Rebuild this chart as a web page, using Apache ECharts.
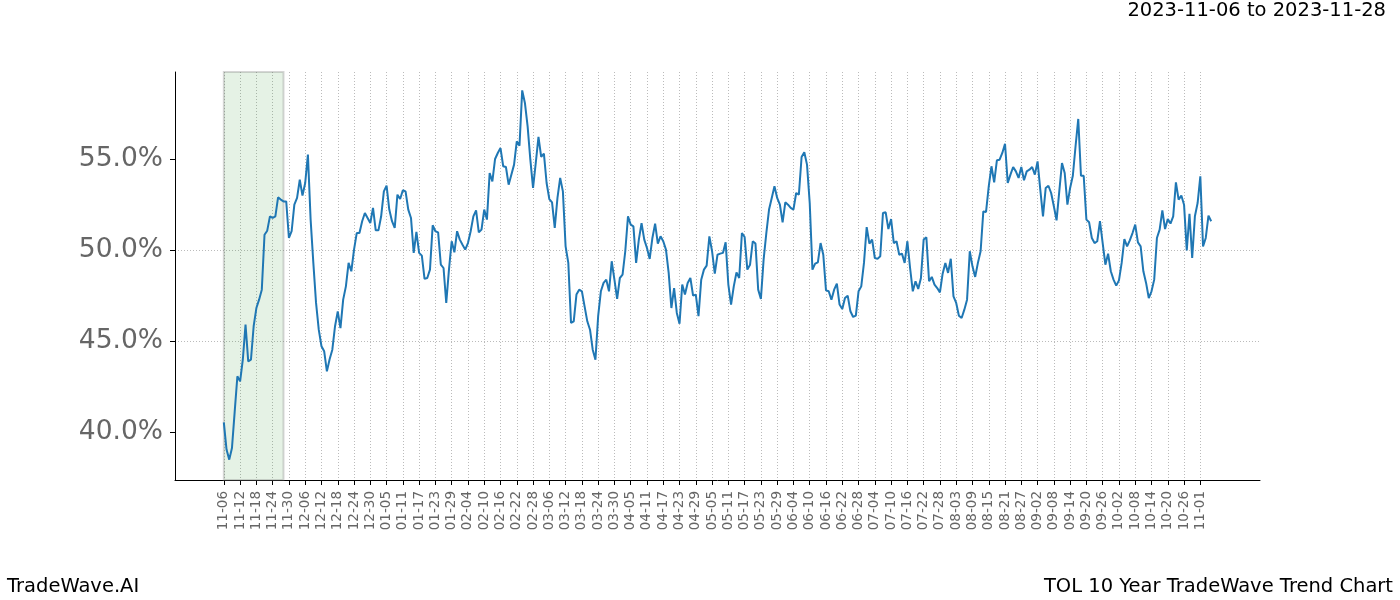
<!DOCTYPE html>
<html><head><meta charset="utf-8">
<script src="https://cdn.jsdelivr.net/npm/echarts@6/dist/echarts.min.js"></script>
<style>html,body{margin:0;padding:0;background:#fff}#c{width:1400px;height:600px}</style>
</head><body><div id="c"></div>
<script>
const startDate = '2023-11-06';
const values = [
40.53,39.03,38.48,39.12,41.10,43.06,42.78,43.97,45.90,43.88,43.97,45.81,46.81,47.27,47.82,50.84,51.06,51.85,51.76,51.85,
52.89,52.77,52.67,52.67,50.66,51.03,52.49,52.86,53.86,52.99,53.68,55.24,51.67,49.29,47.09,45.62,44.71,44.43,43.33,44.00,
44.52,45.81,46.63,45.71,47.27,48.00,49.29,48.83,50.02,50.93,50.93,51.58,52.03,51.76,51.48,52.31,51.08,51.08,51.85,53.22,
53.53,52.22,51.58,51.21,53.04,52.80,53.28,53.22,52.22,51.76,49.84,50.99,49.84,49.69,48.41,48.46,48.92,51.36,51.03,50.97,
49.20,49.01,47.09,48.92,50.48,49.87,51.03,50.57,50.29,50.02,50.38,51.03,51.85,52.18,50.97,51.12,52.22,51.67,54.23,53.77,
55.00,55.33,55.60,54.60,54.56,53.59,54.14,54.69,55.97,55.73,58.77,58.08,56.79,54.96,53.41,54.78,56.21,55.11,55.29,53.68,
52.80,52.62,51.21,52.86,53.96,53.22,50.20,49.29,45.99,46.08,47.55,47.82,47.73,46.90,46.08,45.62,44.52,43.97,46.36,47.73,
48.19,48.37,47.73,49.38,48.37,47.31,48.46,48.64,49.93,51.85,51.39,51.30,49.29,50.57,51.48,50.57,50.11,49.51,50.66,51.45,
50.35,50.75,50.48,50.02,48.74,46.81,47.91,46.54,45.95,48.10,47.55,48.19,48.46,47.49,47.55,46.36,48.37,48.92,49.14,50.75,
49.93,48.70,49.74,49.80,49.84,50.42,48.10,47.00,48.00,48.77,48.46,50.93,50.71,48.92,49.19,50.48,50.35,47.82,47.31,49.47,
50.93,52.22,52.86,53.50,52.86,52.49,51.52,52.62,52.49,52.31,52.22,53.13,53.04,55.11,55.37,54.69,52.58,48.92,49.25,49.32,
50.38,49.74,47.78,47.73,47.27,47.82,48.15,47.00,46.76,47.36,47.49,46.63,46.32,46.39,47.73,48.00,49.29,51.26,50.35,50.57,
49.56,49.51,49.65,52.03,52.07,51.15,51.70,50.38,50.48,49.74,49.80,49.29,50.48,49.01,47.73,48.28,47.86,48.46,50.57,50.70,
48.28,48.52,48.10,47.91,47.67,48.70,49.29,48.74,49.52,47.45,47.09,46.39,46.26,46.72,47.27,49.93,49.10,48.52,49.29,49.93,
52.12,52.09,53.50,54.60,53.72,54.93,54.96,55.33,55.84,53.68,54.14,54.56,54.32,53.96,54.56,53.83,54.32,54.41,54.56,54.14,
54.87,53.32,51.85,53.41,53.53,53.13,52.40,51.63,53.22,54.78,54.23,52.49,53.41,54.08,55.70,57.20,54.08,54.08,51.67,51.52,
50.66,50.38,50.48,51.58,50.38,49.19,49.80,48.83,48.37,48.04,48.33,49.29,50.60,50.20,50.53,50.93,51.39,50.42,50.20,48.83,
48.19,47.36,47.73,48.37,50.66,51.12,52.18,51.15,51.70,51.45,51.85,53.72,52.77,52.99,52.49,49.98,51.99,49.56,51.85,52.58,
54.05,50.20,50.66,51.89,51.58
];
const tickLabels = ['11-06','11-12','11-18','11-24','11-30','12-06','12-12','12-18','12-24','12-30',
'01-05','01-11','01-17','01-23','01-29','02-04','02-10','02-16','02-22','02-28',
'03-06','03-12','03-18','03-24','03-30','04-05','04-11','04-17','04-23','04-29',
'05-05','05-11','05-17','05-23','05-29','06-04','06-10','06-16','06-22','06-28',
'07-04','07-10','07-16','07-22','07-28','08-03','08-09','08-15','08-21','08-27',
'09-02','09-08','09-14','09-20','09-26','10-02','10-08','10-14','10-20','10-26','11-01'];
const highlight = ['11-06','11-28'];
const yTicks = [40, 45, 50, 55];
const titleText = '2023-11-06 to 2023-11-28';
const brandText = 'TradeWave.AI';
const chartName = 'TOL 10 Year TradeWave Trend Chart';

const PAD = 18;
const days = [];
(function () {
  const d = new Date(startDate + 'T00:00:00Z');
  while (days.length < values.length) {
    const m = d.getUTCMonth() + 1, dd = d.getUTCDate();
    if (!(m === 2 && dd === 29)) days.push(String(m).padStart(2, '0') + '-' + String(dd).padStart(2, '0'));
    d.setUTCDate(d.getUTCDate() + 1);
  }
})();
const cats = [];
for (let i = 0; i < PAD; i++) cats.push('pre' + i);
days.forEach(d => cats.push(d));
for (let i = 0; i < PAD; i++) cats.push('post' + i);
const tickSet = new Set(tickLabels);
const showTick = (i, name) => tickSet.has(name);

const FONT = 'DejaVu Sans';
const chart = echarts.init(document.getElementById('c'), null, {renderer: 'canvas'});
const tStyle = {fontSize: 19.5, fontWeight: 'normal', color: '#000', fontFamily: FONT};
chart.setOption({
  animation: false,
  backgroundColor: '#fff',
  textStyle: {fontFamily: FONT},
  title: [
    {text: titleText, right: 14, top: 1, padding: 0, textStyle: tStyle},
    {text: brandText, left: 7, top: 577, padding: 0, textStyle: tStyle},
    {text: chartName, right: 7, top: 577, padding: 0, textStyle: tStyle}
  ],
  grid: {left: 175, top: 72, right: 140, bottom: 120, containLabel: false},
  xAxis: {
    type: 'category', data: cats, boundaryGap: false,
    axisLine: {show: true, lineStyle: {color: '#000', width: 1}},
    axisTick: {show: true, interval: showTick, length: 5, lineStyle: {color: '#000', width: 1}},
    axisLabel: {interval: showTick, rotate: 90, fontSize: 13.5, color: '#666', margin: 11, fontFamily: FONT},
    splitLine: {show: true, interval: showTick, lineStyle: {type: [1, 2], color: '#aaa', width: 0.8}}
  },
  yAxis: {
    type: 'value', min: 37.36, max: 59.78,
    axisLine: {show: true, lineStyle: {color: '#000', width: 1}},
    axisTick: {show: true, length: 5, customValues: yTicks, lineStyle: {color: '#000', width: 1}},
    axisLabel: {customValues: yTicks, formatter: v => v.toFixed(1) + '%', fontSize: 26.5, color: '#666', margin: 12, padding: [5, 0, 0, 0], fontFamily: FONT},
    splitLine: {show: true, showMinLine: false, showMaxLine: false, lineStyle: {type: [1, 2], color: '#aaa', width: 0.8}}
  },
  series: [{
    type: 'line',
    data: values.map((v, i) => [PAD + i, v]),
    showSymbol: false,
    lineStyle: {color: '#1f77b4', width: 2},
    itemStyle: {color: '#1f77b4'},
    markArea: {
      silent: true,
      itemStyle: {color: 'rgba(0,128,0,0.1)', borderColor: 'rgba(120,120,120,0.3)', borderWidth: 2},
      data: [[{xAxis: highlight[0]}, {xAxis: highlight[1]}]]
    }
  }]
});
</script>
</body></html>
